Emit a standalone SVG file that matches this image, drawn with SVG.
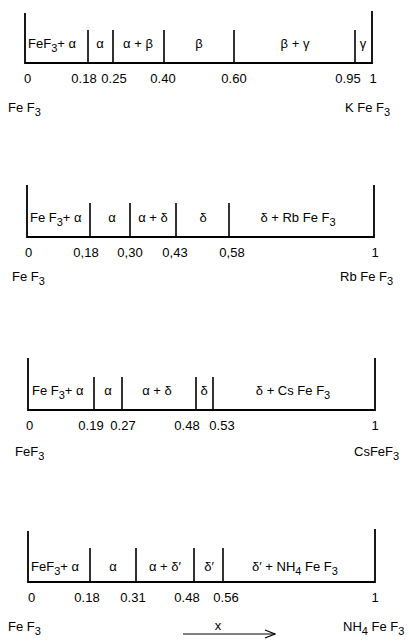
<svg xmlns="http://www.w3.org/2000/svg" width="409" height="643" viewBox="0 0 409 643">
<defs>
<style>
.ax{stroke:#000;stroke-width:1.8;fill:none;stroke-linecap:square}
.dv{stroke:#000;stroke-width:1.6;fill:none}
text{font-family:"Liberation Sans",Arial,sans-serif;font-size:13px;fill:#000}
.s{font-size:11px}
.m{text-anchor:middle}
</style>
<marker id="oa" markerWidth="12" markerHeight="10" refX="11" refY="5" orient="auto" markerUnits="userSpaceOnUse">
<path d="M1,1 L11,5 L1,9" fill="none" stroke="#000" stroke-width="1.2"/>
</marker>
</defs>
<rect width="409" height="643" fill="#fff"/>

<g id="K-diagram">
<path class="ax" d="M25,14 V63 H372 V12"/>
<path class="dv" d="M88,30 V63 M113,30 V63 M164,30 V63 M234,30 V63 M355,30 V63"/>
<text x="28" y="48">FeF<tspan class="s" dy="4">3</tspan><tspan dy="-4">+ α</tspan></text>
<text class="m" x="100" y="48">α</text>
<text class="m" x="138" y="48">α + β</text>
<text class="m" x="199" y="48">β</text>
<text class="m" x="295" y="48">β + γ</text>
<text class="m" x="363" y="48">γ</text>
<text x="24" y="83">0</text>
<text class="m" x="84" y="83">0.18</text>
<text class="m" x="114" y="83">0.25</text>
<text class="m" x="163" y="83">0.40</text>
<text class="m" x="234" y="83">0.60</text>
<text class="m" x="348" y="83">0.95</text>
<text class="m" x="373" y="83">1</text>
<text x="8" y="112">Fe F<tspan class="s" dy="4">3</tspan></text>
<text x="345" y="112">K Fe F<tspan class="s" dy="4">3</tspan></text>
</g>

<g id="Rb-diagram">
<path class="ax" d="M27,186 V237 H374 V186"/>
<path class="dv" d="M90,203 V237 M130,203 V237 M176,203 V237 M229,203 V237"/>
<text x="30" y="222">Fe F<tspan class="s" dy="4">3</tspan><tspan dy="-4">+ α</tspan></text>
<text class="m" x="112" y="222">α</text>
<text class="m" x="153" y="222">α + δ</text>
<text class="m" x="203" y="222">δ</text>
<text class="m" x="298" y="222">δ + Rb Fe F<tspan class="s" dy="4">3</tspan></text>
<text x="25" y="257">0</text>
<text class="m" x="86" y="257">0,18</text>
<text class="m" x="130" y="257">0,30</text>
<text class="m" x="175" y="257">0,43</text>
<text class="m" x="232" y="257">0,58</text>
<text class="m" x="375" y="257">1</text>
<text x="12" y="281">Fe F<tspan class="s" dy="4">3</tspan></text>
<text x="340" y="281">Rb Fe F<tspan class="s" dy="4">3</tspan></text>
</g>

<g id="Cs-diagram">
<path class="ax" d="M28,359 V410 H375 V359"/>
<path class="dv" d="M94,377 V410 M122,377 V410 M196,377 V410 M213,377 V410"/>
<text x="32" y="395">Fe F<tspan class="s" dy="4">3</tspan><tspan dy="-4">+ α</tspan></text>
<text class="m" x="108" y="395">α</text>
<text class="m" x="157" y="395">α + δ</text>
<text class="m" x="204" y="395">δ</text>
<text class="m" x="293" y="395">δ + Cs Fe F<tspan class="s" dy="4">3</tspan></text>
<text x="26" y="430">0</text>
<text class="m" x="91" y="430">0.19</text>
<text class="m" x="123" y="430">0.27</text>
<text class="m" x="187" y="430">0.48</text>
<text class="m" x="222" y="430">0.53</text>
<text class="m" x="375" y="430">1</text>
<text x="15" y="456">FeF<tspan class="s" dy="4">3</tspan></text>
<text x="354" y="456">CsFeF<tspan class="s" dy="4">3</tspan></text>
</g>

<g id="NH4-diagram">
<path class="ax" d="M28,532 V582 H375 V530"/>
<path class="dv" d="M90,548 V582 M136,548 V582 M194,548 V582 M223,548 V582"/>
<text x="31" y="571">FeF<tspan class="s" dy="4">3</tspan><tspan dy="-4">+ α</tspan></text>
<text class="m" x="113" y="571">α</text>
<text class="m" x="165" y="571">α + δ′</text>
<text class="m" x="209" y="571">δ′</text>
<text class="m" x="295" y="571">δ′ + NH<tspan class="s" dy="4">4</tspan><tspan dy="-4"> Fe F</tspan><tspan class="s" dy="4">3</tspan></text>
<text x="28" y="602">0</text>
<text class="m" x="87" y="602">0.18</text>
<text class="m" x="133" y="602">0.31</text>
<text class="m" x="187" y="602">0.48</text>
<text class="m" x="226" y="602">0.56</text>
<text class="m" x="375" y="602">1</text>
<text x="8" y="631">Fe F<tspan class="s" dy="4">3</tspan></text>
<text x="343" y="631">NH<tspan class="s" dy="4">4</tspan><tspan dy="-4"> Fe F</tspan><tspan class="s" dy="4">3</tspan></text>
<text class="m" x="218" y="630">x</text>
</g>

<g id="connectors">
<path d="M183,634 H275" stroke="#000" stroke-width="1.2" fill="none" marker-end="url(#oa)"/>
</g>
</svg>
